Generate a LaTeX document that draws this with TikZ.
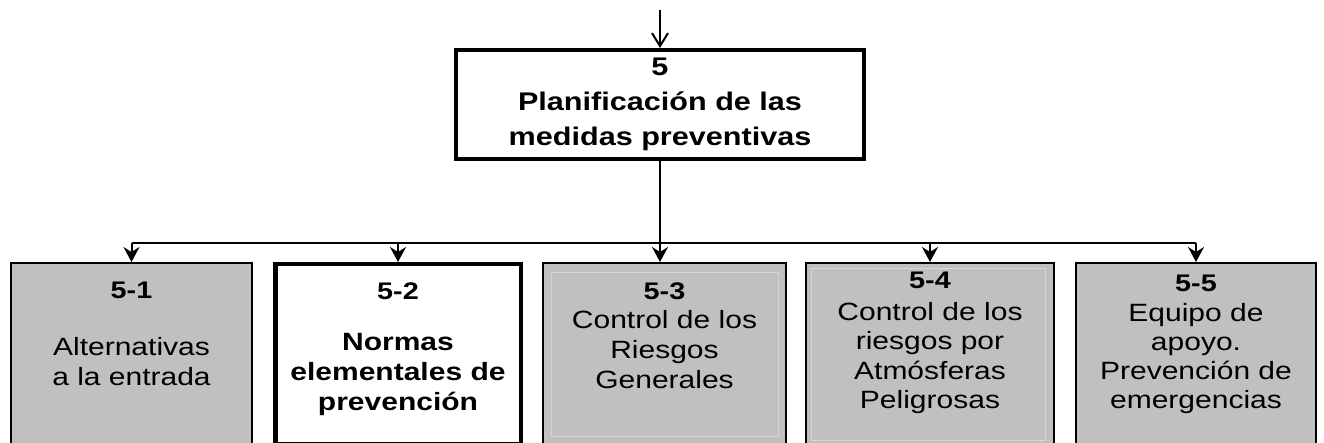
\documentclass[tikz,border=0pt]{standalone}
\usepackage{fontspec}
\setmainfont{Liberation Sans}[FakeStretch=1.2]
\usetikzlibrary{arrows.meta,positioning}
\definecolor{boxgray}{HTML}{C0C0C0}
\definecolor{insetgray}{HTML}{D6D6D6}
\newcommand{\num}[1]{{\bfseries\fontsize{24}{30}\selectfont #1}}

\begin{document}
\begin{tikzpicture}[x=1pt, y=-1pt, line width=2pt,
  top/.style={-{Straight Barb[length=13pt, width=16pt]}},
  down/.style={-{Stealth[length=15pt, width=16pt, inset=5pt]}},
  mainbox/.style={draw, line width=4pt, fill=white, minimum width=408pt, minimum height=109pt,
    inner sep=0pt, align=center, font=\bfseries\fontsize{25.5}{35}\selectfont},
  subbox/.style={draw, line width=2.2pt, fill=boxgray, minimum height=181.8pt, anchor=north},
  keybox/.style={subbox, line width=4.5pt, fill=white, minimum height=179.5pt},
  subtxt/.style={inner sep=0pt, align=center, font=\fontsize{25}{30}\selectfont},
  inset/.style={draw=insetgray, line width=1pt}]
\useasboundingbox (0,0) rectangle (1324,443);
% top level
\node[mainbox] (main) at (660,104.5) {5\\Planificación de las\\medidas preventivas};
\coordinate[above=38pt of main.north] (in);
\coordinate[below=82pt of main.south] (bus);
% second level
\node[subbox, minimum width=240.8pt] (b1) at (131.5,262) {};
\node[keybox, minimum width=245.5pt] (b2) at (398,262) {};
\node[subbox, minimum width=242.8pt] (b3) at (664.5,262) {};
\node[subbox, minimum width=247.8pt] (b4) at (930,262) {};
\node[subbox, minimum width=239.8pt] (b5) at (1196,262) {};
\draw[inset] ([shift={(9,11)}]b3.north west) rectangle ([shift={(-9,-10)}]b3.south east);
\draw[inset] ([shift={(6,7)}]b4.north west) rectangle ([shift={(-10,-6)}]b4.south east);
\node[subtxt, below=18.6pt of b1.north] (t1) {\num{5-1}\\[27pt]Alternativas\\a la entrada};
\node[subtxt, font=\bfseries\fontsize{25}{30}\selectfont, below=19.6pt of b2.north] (t2) {\num{5-2}\\[21pt]Normas\\elementales de\\prevención};
\node[subtxt, below=19.6pt of b3.north] (t3) {\num{5-3}\\[-1pt]Control de los\\Riesgos\\Generales};
\node[subtxt, font=\fontsize{25}{29.5}\selectfont, below=8.6pt of b4.north] (t4) {\num{5-4}\\[2.5pt]Control de los\\riesgos por\\Atmósferas\\Peligrosas};
\node[subtxt, font=\fontsize{25}{29}\selectfont, below=11.6pt of b5.north] (t5) {\num{5-5}\\[1pt]Equipo de\\apoyo.\\Prevención de\\emergencias};
% connectors
\draw[top] (in) -- (main);
\draw (b1.north |- bus) -- (b5.north |- bus);
\draw[down] (main.south) -- (main.south |- b3.north);
\foreach \b in {b1,b2,b4,b5}
  \draw[down] (\b.north |- bus) -- (\b.north);
\end{tikzpicture}
\end{document}
